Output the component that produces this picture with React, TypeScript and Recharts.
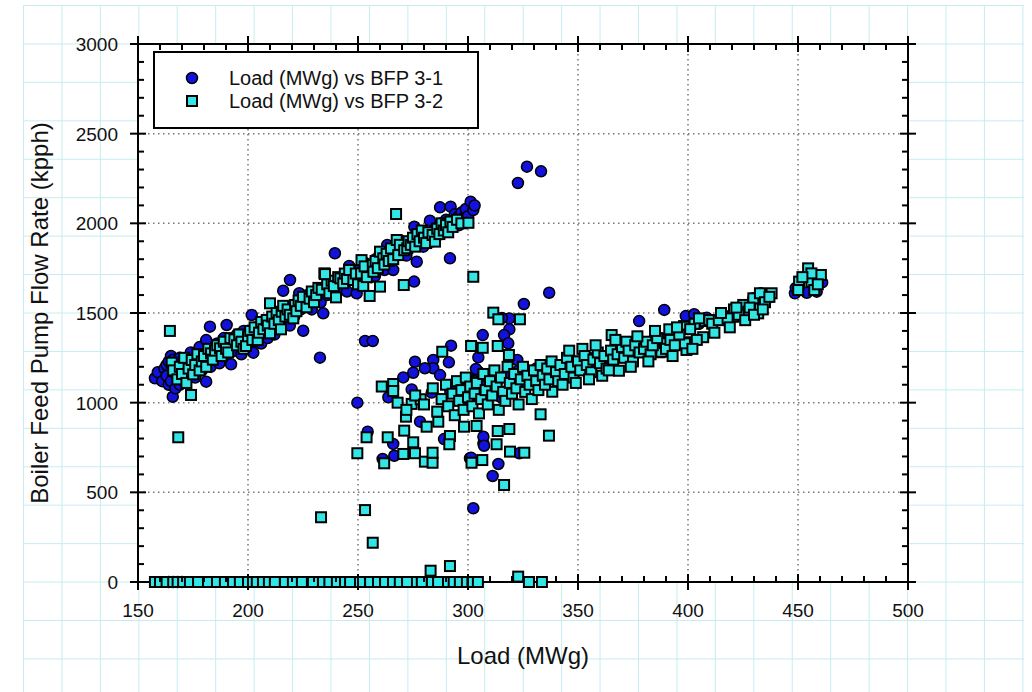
import { ScatterChart, Scatter, XAxis, YAxis, CartesianGrid, Legend } from 'recharts'

// axis ticks
const loadMajor = [150, 200, 250, 300, 350, 400, 450, 500]
const loadTicks = [
  150, 160, 170, 180, 190, 200, 210, 220, 230, 240, 250, 260, 270, 280, 290, 300, 310, 320,
  330, 340, 350, 360, 370, 380, 390, 400, 410, 420, 430, 440, 450, 460, 470, 480, 490, 500,
]
const flowMajor = [0, 500, 1000, 1500, 2000, 2500, 3000]
const flowTicks = [
  0, 100, 200, 300, 400, 500, 600, 700, 800, 900, 1000, 1100, 1200, 1300, 1400, 1500, 1600,
  1700, 1800, 1900, 2000, 2100, 2200, 2300, 2400, 2500, 2600, 2700, 2800, 2900, 3000,
]
const gridLoad = [200, 250, 300, 350, 400, 450]
const gridFlow = [500, 1000, 1500, 2000, 2500]

// BFP 3-1 : [load MWg, flow kpph]
const bfp31Band: [number, number][] = [
  [157.7, 1136], [159, 1170], [161, 1120], [162, 1190], [163, 1150], [163, 1210], [164, 1230], [164, 1100],
  [165, 1260], [165, 1120], [165.8, 1033], [166, 1170], [166, 1240], [167, 1210], [167, 1080], [168, 1140],
  [168, 1190], [169, 1250], [169, 1100], [170, 1190], [170, 1150], [171, 1120], [172, 1230], [173, 1160],
  [174, 1280], [175, 1200], [176, 1140], [177, 1250], [178, 1310], [179, 1180], [180, 1230], [181, 1117],
  [181, 1349], [182, 1270], [182.7, 1424], [183, 1200], [184, 1300], [185, 1250], [186, 1330], [187, 1220],
  [188, 1280], [189, 1360], [190.3, 1433], [190, 1260], [191, 1310], [192.3, 1214], [193, 1340], [194, 1290],
  [195, 1380], [196, 1320], [197, 1270], [198, 1400], [199, 1350], [200, 1300], [201.7, 1489], [202.4, 1279],
  [202, 1380], [203, 1340], [204, 1420], [205, 1370], [206, 1330], [207, 1440], [208, 1400], [209, 1360],
  [210, 1470], [211, 1420], [212, 1380], [213, 1480], [214, 1440], [215, 1510], [216, 1624], [217, 1460],
  [218, 1500], [219.1, 1684], [219, 1430], [220, 1530], [221, 1480], [222, 1550], [223.3, 1610], [224, 1520],
  [225.1, 1401], [225, 1570], [226, 1540], [227, 1600], [228, 1560], [229, 1520], [230, 1600], [231, 1580],
  [232.7, 1251], [232, 1620], [233, 1560], [234.2, 1498], [235, 1640], [236, 1600], [237, 1660], [238.8, 1638],
  [239.5, 1833], [240, 1610], [241, 1680], [242, 1640], [243, 1700], [244, 1660], [245, 1620], [246, 1762],
  [247, 1690], [248, 1730], [249.4, 1610], [250, 1700], [251, 1750], [252, 1680], [253, 1780], [254, 1720],
  [255, 1760], [256, 1700], [257.7, 1706], [258, 1800], [259, 1760], [260, 1830], [261, 1780], [262, 1740],
  [263.3, 1879], [264, 1810], [265, 1850], [266, 1740], [267, 1880], [268, 1830], [269.1, 1851], [270, 1900],
  [271, 1860], [272, 1820], [273, 1900], [274, 1870], [275.5, 1675], [275.6, 1981], [276.7, 1786], [277, 1920],
  [278, 1880], [279.7, 1870], [280, 1950], [281, 1910], [282.7, 2015], [283, 1940], [284, 1900], [285, 1970],
  [286, 1930], [287.3, 2089], [287.3, 1944], [288, 2000], [289, 1960], [290, 2020], [291, 1972], [291.8, 1805],
  [292.1, 2093], [293, 2000], [294, 2050], [295.6, 2037], [296, 1990], [297, 2060], [298, 2030], [299, 2080],
  [300, 2040], [301.2, 2121], [302.4, 2074], [303, 2100],
]
const bfp31Scatter: [number, number][] = [
  [253.2, 1344], [256.7, 1344], [249.7, 1000], [263.8, 1030], [254.4, 838], [266, 770], [261.2, 686], [266.5, 704],
  [278.2, 894], [289.1, 797], [300.9, 690], [307, 773], [313.8, 658], [311.2, 591], [302.4, 411], [323.3, 718],
  [307, 810], [307.3, 760], [301.4, 693], [336.9, 1613], [325.4, 1550], [318.8, 1470], [318.8, 1409], [316.4, 1377],
  [318.3, 1331], [306.7, 1377], [292.3, 1318], [284.2, 1238], [284.2, 1192], [280.4, 1192], [275.9, 1228], [275.1, 1167],
  [270.6, 1141], [291.3, 1225], [287.3, 1154], [274.4, 1074], [283.5, 1056], [304.7, 1253], [304.7, 1173], [303.6, 1188],
  [300.6, 1132], [322.4, 1238], [366, 1191], [385.7, 1359], [389.2, 1517], [377.8, 1455], [399, 1483], [402.8, 1493],
  [408.5, 1474], [429.7, 1582], [433, 1610], [322.7, 2225], [326.8, 2316], [333.2, 2290], [315.4, 1472],
  [292, 1060], [295, 1100], [297, 1020], [299, 1080], [301, 1000], [303, 1120], [305, 1050], [307, 1090],
  [309, 1140], [311, 1070], [313, 1110], [315, 1030], [317, 1150], [319, 1090], [321, 1130], [323, 1180],
  [325, 1100], [327, 1150], [329, 1120], [331, 1190], [333, 1140], [335, 1170], [337, 1210], [340, 1160],
  [343, 1200], [346, 1180], [349, 1230], [352, 1210], [355, 1250], [358, 1220], [361, 1260], [364, 1240],
  [367, 1280], [370, 1260], [373, 1300], [376, 1280], [379, 1320], [382, 1300], [385, 1340], [388, 1330],
  [391, 1370], [394, 1350], [397, 1400], [405, 1440], [412, 1460], [418, 1480], [423, 1500], [427, 1540],
  [436, 1580], [448.6, 1610], [449, 1640], [454, 1613], [458.5, 1619], [461, 1671],
]
const bfp31Zero: [number, number][] = [
  [164, 0], [166, 0], [168, 0], [170, 0], [200, 0], [250, 0], [300, 0],
]

// BFP 3-2 : [load MWg, flow kpph]
const bfp32Band: [number, number][] = [
  [164.5, 1400], [165.3, 1223], [166, 1180], [167.9, 1130], [168.3, 807], [169, 1200], [170, 1160], [171, 1250],
  [172, 1110], [173, 1190], [174.1, 1043], [174.4, 1238], [175.1, 1158], [176, 1210], [177, 1270], [178, 1180],
  [179, 1230], [180, 1260], [181, 1200], [182, 1300], [183.2, 1275], [184, 1240], [185, 1290], [186, 1320],
  [187.3, 1303], [188, 1260], [189, 1340], [190, 1300], [191, 1280], [192, 1360], [193.8, 1353], [195, 1320],
  [196, 1380], [197, 1340], [198, 1300], [199.1, 1316], [200, 1370], [201, 1400], [202, 1350], [203, 1420],
  [204.4, 1349], [205, 1390], [206, 1450], [207, 1410], [208.5, 1461], [209, 1430], [210, 1554], [210, 1387],
  [211, 1480], [212, 1440], [213, 1500], [214, 1460], [215, 1409], [215.3, 1507], [216, 1540], [217, 1480],
  [218, 1520], [219, 1490], [220.6, 1470], [221.4, 1545], [222, 1510], [223, 1570], [224, 1540], [225, 1590],
  [226.6, 1532], [228, 1580], [229, 1620], [230, 1560], [231, 1600], [232, 1640], [233.5, 1630], [234.7, 1721],
  [236, 1660], [237, 1610], [238, 1680], [239, 1650], [240, 1587], [241, 1700], [242, 1693], [243.3, 1666],
  [244, 1720], [245, 1690], [246, 1740], [247.9, 1684], [249, 1720], [250, 1660], [251.4, 1721], [251.6, 1795],
  [252.4, 1651], [253, 1760], [254, 1700], [255.3, 1595], [256.7, 1768], [257, 1730], [258, 1790], [259, 1750],
  [260, 1842], [260, 1647], [261.5, 1805], [262, 1770], [263, 1830], [264, 1790], [265, 1860], [266, 1800],
  [267.3, 2052], [267.6, 1907], [268.3, 1823], [269, 1880], [270.8, 1656], [271, 1850], [272.4, 1861], [273, 1900],
  [274, 1880], [275, 1920], [276, 1870], [277, 1940], [278, 1900], [279, 1960], [280, 1920], [281, 1890],
  [282, 1950], [283.9, 1935], [285, 1898], [286, 1970], [287, 1940], [288, 2000], [289, 1960], [290, 1990],
  [291, 1950], [292, 2010], [293, 1980], [295, 2020], [297, 2000], [300.2, 2003], [302.4, 1702], [235, 1717],
]
const bfp32Scatter: [number, number][] = [
  [311.5, 1502], [313.8, 1465], [323.6, 1465], [301.4, 1316], [306.7, 1306], [313.5, 1316], [288.3, 1284], [318.6, 1266],
  [260.8, 1090], [266, 1104], [266, 1065], [274.4, 993], [278.5, 1019], [271.8, 922], [281.2, 866], [286.5, 894],
  [271, 844], [253.9, 807], [263.5, 807], [275.1, 779], [291.8, 814], [291.5, 768], [249.7, 718], [261.9, 662],
  [270.6, 714], [275.9, 718], [280.4, 671], [283.9, 665], [283.9, 721], [298.2, 866], [303.9, 870], [301.6, 665],
  [306.5, 680], [313.5, 842], [318.8, 853], [313, 768], [319.1, 727], [325.6, 721], [316.4, 541], [333, 935],
  [336.8, 816], [253.2, 401], [233.2, 361], [338.3, 1061], [256.7, 219], [283, 63], [291.8, 89], [322.8, 30],
  [365.3, 1377], [391.5, 1409], [398.2, 1427], [399.3, 1337], [399.3, 1294], [387, 1281], [368.6, 1178], [387.9, 1284],
  [389.5, 1331], [398.6, 1331], [406.9, 1365], [398.6, 1423], [403, 1440], [407.7, 1455], [409.7, 1460], [416.8, 1467],
  [420.6, 1479], [420.9, 1520], [425.1, 1545], [427.4, 1507], [431.9, 1498], [432.7, 1526], [429.7, 1582], [432.7, 1610],
  [438, 1610], [454.6, 1749], [450.5, 1675], [456.1, 1675], [460.4, 1712], [450.1, 1628], [457.4, 1628], [456.1, 1721],
  [452, 1700], [459, 1660],
  [268, 1000], [272, 960], [276, 1040], [280, 990], [284, 1080], [286, 950], [288, 1020], [290, 1100],
  [291, 980], [293, 1050], [294, 930], [295, 1120], [296, 1010], [297, 1070], [298, 960], [299, 1140],
  [300, 1030], [301, 1090], [302, 980], [303, 1050], [304, 1110], [305, 940], [306, 1020], [307, 1160],
  [308, 1070], [309, 990], [310, 1120], [311, 1040], [312, 1180], [313, 1090], [314, 960], [315, 1140],
  [316, 1060], [317, 1010], [318, 1200], [319, 1110], [320, 1050], [321, 1160], [322, 1080], [323, 990],
  [324, 1130], [325, 1200], [326, 1060], [327, 1150], [328, 1100], [329, 1020], [330, 1180], [331, 1120],
  [332, 1070], [333, 1210], [334, 1150], [335, 1100], [336, 1190], [337, 1130], [338, 1230], [340, 1170],
  [341, 1120], [342, 1210], [344, 1160], [345, 1250], [347, 1200], [348, 1140], [349, 1110], [350, 1230],
  [351, 1180], [352, 1300], [353, 1260], [354, 1210], [356, 1170], [357, 1240], [359, 1280], [360, 1220],
  [361, 1150], [362, 1260], [363, 1190], [365, 1290], [366, 1240], [368, 1270], [370, 1310], [371, 1250],
  [372, 1340], [373, 1290], [375, 1230], [376, 1320], [378, 1280], [380, 1300], [381, 1340], [383, 1270],
  [384, 1320], [386, 1360], [390, 1300], [392, 1350], [394, 1320], [396, 1380], [401, 1410], [404, 1350],
  [411, 1440], [414, 1460], [418, 1470], [423, 1490], [428, 1530], [435, 1560],
  [343, 1100], [346, 1290], [355, 1130], [358, 1320], [364, 1180], [367, 1350], [374, 1200], [377, 1370],
  [382, 1230], [385, 1400], [393, 1260], [395, 1420], [402, 1300], [405, 1470], [412, 1390], [415, 1500],
  [419, 1420], [422, 1530], [426, 1460], [430, 1490], [434, 1520], [437, 1590],
]
const bfp32Zero: [number, number][] = [
  [157.7, 0], [160, 0], [163, 0], [166, 0], [168, 0], [170.5, 0], [173.6, 0], [177.3, 0], [181.8, 0], [185.9, 0],
  [189.5, 0], [193.2, 0], [196.3, 0], [200, 0], [204, 0], [206.8, 0], [209.5, 0], [212.2, 0], [216.8, 0], [220.4, 0],
  [224.5, 0], [229.5, 0], [234.1, 0], [237, 0], [240.4, 0], [244.1, 0], [246.4, 0], [250.9, 0], [255.5, 0], [259.1, 0],
  [262.3, 0], [265.9, 0], [269, 0], [272.3, 0], [276.8, 0], [279, 0], [283.6, 0], [286.4, 0], [290.9, 0], [293.5, 0],
  [296.3, 0], [299.5, 0], [302, 0], [304.5, 0], [327.7, 0], [333.6, 0],
]

const toPoints = (rows: [number, number][]) => rows.map(([load, flow]) => ({ load, flow }))
const bfp31 = toPoints([...bfp31Zero, ...bfp31Band, ...bfp31Scatter])
const bfp32 = toPoints([...bfp32Zero, ...bfp32Band, ...bfp32Scatter])

const FONT = "'Liberation Sans', Arial, sans-serif"
const BLUE = '#1212dc'
const CYAN = '#33e6e6'

const Circle = (p: any) => <circle cx={p.cx} cy={p.cy} r={5.5} fill={BLUE} stroke="#000" strokeWidth={1.5} />
const Square = (p: any) => <rect x={p.cx - 5} y={p.cy - 5} width={10} height={10} fill={CYAN} stroke="#000" strokeWidth={2} />
const NoMark = () => <g />

// ticks: major ones cross the frame, minor ones point inside
const BottomTick = ({ x, y, payload }: any) => {
  const major = loadMajor.includes(payload.value)
  return (
    <g>
      <line x1={x} x2={x} y1={major ? y - 8 : y - 6} y2={major ? y + 8 : y} stroke="#000" strokeWidth={2} />
      {major && (
        <text x={x} y={y + 35} textAnchor="middle" fontSize={19} fontFamily={FONT} fill="#111">
          {payload.value}
        </text>
      )}
    </g>
  )
}
const TopTick = ({ x, y, payload }: any) => {
  const major = loadMajor.includes(payload.value)
  return <line x1={x} x2={x} y1={major ? y - 8 : y} y2={major ? y + 8 : y + 6} stroke="#000" strokeWidth={2} />
}
const LeftTick = ({ x, y, payload }: any) => {
  const major = flowMajor.includes(payload.value)
  return (
    <g>
      <line x1={major ? x - 8 : x} x2={major ? x + 8 : x + 6} y1={y} y2={y} stroke="#000" strokeWidth={2} />
      {major && (
        <text x={x - 20} y={y + 7} textAnchor="end" fontSize={19} fontFamily={FONT} fill="#111">
          {payload.value}
        </text>
      )}
    </g>
  )
}
const RightTick = ({ x, y, payload }: any) => {
  const major = flowMajor.includes(payload.value)
  return <line x1={major ? x - 8 : x - 6} x2={major ? x + 8 : x} y1={y} y2={y} stroke="#000" strokeWidth={2} />
}

const LegendBox = ({ payload }: any) => (
  <div style={{ position: 'relative', width: 326, height: 78, boxSizing: 'border-box', border: '2px solid #000', background: '#fff', fontFamily: FONT, fontSize: 20, color: '#111' }}>
    {(payload || []).filter((item: any) => item.type !== 'none').map((item: any, i: number) => (
      <div key={item.value} style={{ position: 'absolute', left: 0, top: i === 0 ? 13 : 36, height: 24, display: 'flex', alignItems: 'center' }}>
        <svg width={74} height={24}>
          {i === 0 ? <Circle cx={37} cy={12} /> : <Square cx={37} cy={12} />}
        </svg>
        <span>{item.value}</span>
      </div>
    ))}
  </div>
)

export default function App() {
  return (
    <div style={{ position: 'absolute', left: 0, top: 0, width: 1032, height: 692, background: '#fff', overflow: 'hidden' }}>
      <div
        style={{
          position: 'absolute', left: 23, top: 5, width: 1001, height: 687,
          backgroundImage: 'linear-gradient(to right, #c6ecf0 1px, transparent 1px), linear-gradient(to bottom, #c6ecf0 1px, transparent 1px)',
          backgroundSize: '38.45px 38.45px',
        }}
      />
      <div style={{ position: 'absolute', left: 0, top: 0 }}>
        <ScatterChart width={1032} height={692} margin={{ top: 43, right: 123, bottom: 109, left: 137 }}>
          <CartesianGrid xAxisId="bottom" yAxisId="left" fill="#fff" stroke="#777" strokeWidth={1.5} strokeDasharray="1.5 3.5" verticalValues={gridLoad} horizontalValues={gridFlow} />
          <XAxis
            xAxisId="bottom" dataKey="load" type="number" domain={[150, 500]} ticks={loadTicks} interval={0}
            height={1} tickSize={0} tickMargin={0} tickLine={false} tick={BottomTick}
            axisLine={{ stroke: '#000', strokeWidth: 2 }}
            label={(p: any) => (
              <text x={p.viewBox.x + p.viewBox.width / 2} y={p.viewBox.y + 82} textAnchor="middle" fontSize={24} fontFamily={FONT} fill="#111">
                Load (MWg)
              </text>
            )}
          />
          <XAxis
            xAxisId="top" orientation="top" dataKey="load" type="number" domain={[150, 500]} ticks={loadTicks} interval={0}
            height={1} tickSize={0} tickMargin={0} tickLine={false} tick={TopTick}
            axisLine={{ stroke: '#000', strokeWidth: 2 }}
          />
          <YAxis
            yAxisId="left" dataKey="flow" type="number" domain={[0, 3000]} ticks={flowTicks} interval={0}
            width={1} tickSize={0} tickMargin={0} tickLine={false} tick={LeftTick}
            axisLine={{ stroke: '#000', strokeWidth: 2 }}
            label={(p: any) => {
              const cx = p.viewBox.x - 89
              const cy = p.viewBox.y + p.viewBox.height / 2
              return (
                <text x={cx} y={cy} transform={`rotate(-90 ${cx} ${cy})`} textAnchor="middle" fontSize={24} fontFamily={FONT} fill="#111">
                  Boiler Feed Pump Flow Rate (kpph)
                </text>
              )
            }}
          />
          <YAxis
            yAxisId="right" orientation="right" dataKey="flow" type="number" domain={[0, 3000]} ticks={flowTicks} interval={0}
            width={1} tickSize={0} tickMargin={0} tickLine={false} tick={RightTick}
            axisLine={{ stroke: '#000', strokeWidth: 2 }}
          />
          <Legend
            layout="vertical" verticalAlign="middle" align="center"
            wrapperStyle={{ left: 153, top: 51, width: 326, height: 78 }}
            content={LegendBox}
          />
          {/* carrier series so the top and right frame axes get their ticks */}
          <Scatter name="frame" data={bfp32Zero.slice(0, 1).map(([load, flow]) => ({ load, flow }))} xAxisId="top" yAxisId="right" shape={NoMark} legendType="none" isAnimationActive={false} />
          <Scatter name="Load (MWg) vs BFP 3-1" data={bfp31} xAxisId="bottom" yAxisId="left" shape={Circle} fill={BLUE} isAnimationActive={false} />
          <Scatter name="Load (MWg) vs BFP 3-2" data={bfp32} xAxisId="bottom" yAxisId="left" shape={Square} fill={CYAN} isAnimationActive={false} />
        </ScatterChart>
      </div>
    </div>
  )
}
